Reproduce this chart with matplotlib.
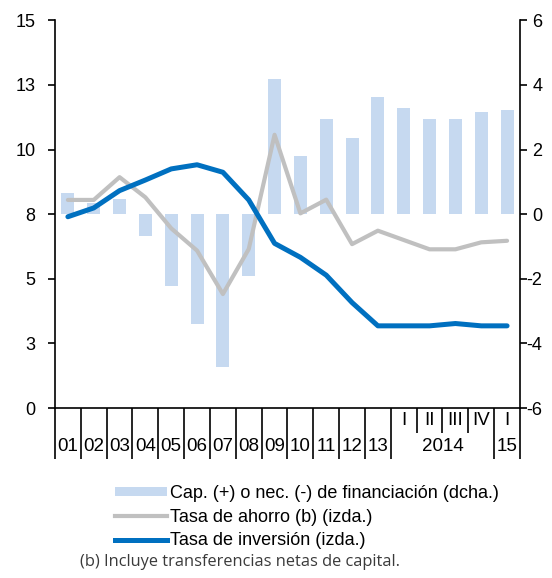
import matplotlib
matplotlib.use("Agg")
import matplotlib.pyplot as plt
from matplotlib.patches import Patch
from matplotlib.lines import Line2D
import numpy as np

# Categories: annual 2001-2013, quarters of 2014, Q1 2015
year_labels = ["01", "02", "03", "04", "05", "06", "07", "08", "09", "10", "11", "12", "13"]
quarter_labels = ["I", "II", "III", "IV", "I"]

# Cap. (+) o nec. (-) de financiación (right axis)
financing = [0.64, 0.35, 0.46, -0.67, -2.22, -3.41, -4.73, -1.92, 4.19, 1.80,
             2.94, 2.37, 3.63, 3.28, 2.94, 2.94, 3.16, 3.22]
# Tasa de ahorro (left axis)
savings = [8.05, 8.05, 8.93, 8.15, 6.95, 6.09, 4.41, 6.15, 10.57, 7.53,
           8.06, 6.34, 6.86, 6.50, 6.14, 6.14, 6.41, 6.47]
# Tasa de inversión (left axis)
investment = [7.40, 7.74, 8.41, 8.82, 9.25, 9.41, 9.12, 8.05, 6.37, 5.83,
              5.14, 4.08, 3.18, 3.18, 3.18, 3.27, 3.18, 3.18]

BAR_COLOUR = "#c6d9f0"
GREY_COLOUR = "#c0c0c0"
BLUE_COLOUR = "#0070c0"

plt.rcParams["font.family"] = ["Liberation Sans", "DejaVu Sans"]
plt.rcParams["axes.unicode_minus"] = False

fig = plt.figure(figsize=(5.52, 5.78), dpi=100)
ax = fig.add_axes([0.0996, 0.294, 0.8424, 0.671])
ax2 = ax.twinx()

x = np.arange(len(financing))

# bars on the right axis, lines on the left axis drawn above
ax2.bar(x, financing, width=0.5, color=BAR_COLOUR, zorder=1)
ax.plot(x, savings, color=GREY_COLOUR, linewidth=3.0, solid_capstyle="round", zorder=3)
ax.plot(x, investment, color=BLUE_COLOUR, linewidth=3.6, solid_capstyle="round", zorder=4)
ax.set_zorder(ax2.get_zorder() + 1)
ax.patch.set_visible(False)

ax.set_xlim(-0.5, len(x) - 0.5)
ax.set_ylim(0, 15)
ax2.set_ylim(-6, 6)

# left ticks every 2.5, shown rounded as in the original
left_ticks = [0, 2.5, 5, 7.5, 10, 12.5, 15]
ax.set_yticks(left_ticks)
ax.set_yticklabels([str(int(t + 0.5)) for t in left_ticks])
right_ticks = np.arange(-6, 7, 2)
ax2.set_yticks(right_ticks)
ax2.set_yticklabels([str(t) for t in right_ticks], ha="right")

for a in (ax, ax2):
    a.spines["top"].set_visible(False)
    a.tick_params(axis="y", direction="out", length=5, width=1.2, labelsize=13, colors="black")
    a.set_xticks([])
ax2.spines["left"].set_visible(False)
ax.spines["right"].set_visible(False)
ax2.spines["bottom"].set_visible(False)
ax2.spines["right"].set_linewidth(1.2)
ax.spines["left"].set_linewidth(1.2)
ax.spines["bottom"].set_linewidth(1.2)
ax.tick_params(axis="y", pad=9)
ax2.tick_params(axis="y", pad=11)

# category separators and labels below the axis
trans = ax.get_xaxis_transform()
n_years = len(year_labels)
for b in np.arange(-0.5, len(x), 1.0):
    in_2014 = n_years - 0.5 < b < n_years + 3.5
    bottom = -0.064 if in_2014 else -0.131
    ax.plot([b, b], [0, bottom], transform=trans, color="black", linewidth=1.2,
            clip_on=False, solid_capstyle="butt")

for i, lab in enumerate(year_labels):
    ax.text(i, -0.0997, lab, transform=trans, ha="center", va="center", fontsize=13.5)
for j, lab in enumerate(quarter_labels):
    ax.text(n_years + j, -0.033, lab, transform=trans, ha="center", va="center", fontsize=13.5)
ax.text(n_years + 1.5, -0.0997, "2014", transform=trans, ha="center", va="center", fontsize=13.5)
ax.text(len(x) - 1, -0.0997, "15", transform=trans, ha="center", va="center", fontsize=13.5)

# legend
handles = [
    Patch(facecolor=BAR_COLOUR, edgecolor="none"),
    Line2D([0], [0], color=GREY_COLOUR, linewidth=3.0),
    Line2D([0], [0], color=BLUE_COLOUR, linewidth=3.6),
]
labels = [
    "Cap. (+) o nec. (-) de financiación (dcha.)",
    "Tasa de ahorro (b) (izda.)",
    "Tasa de inversión (izda.)",
]
fig.legend(handles, labels, loc="upper left", bbox_to_anchor=(0.208, 0.161),
           frameon=False, fontsize=13, handlelength=2.9, handleheight=0.45,
           handletextpad=0.17, labelspacing=0.37, borderpad=0, borderaxespad=0)

fig.text(0.145, 0.027, "(b) Incluye transferencias netas de capital.",
         fontsize=11.8, color="#3a3a3a", family=["Open Sans", "DejaVu Sans"],
         ha="left", va="center")

plt.savefig("out.png", dpi=100)
